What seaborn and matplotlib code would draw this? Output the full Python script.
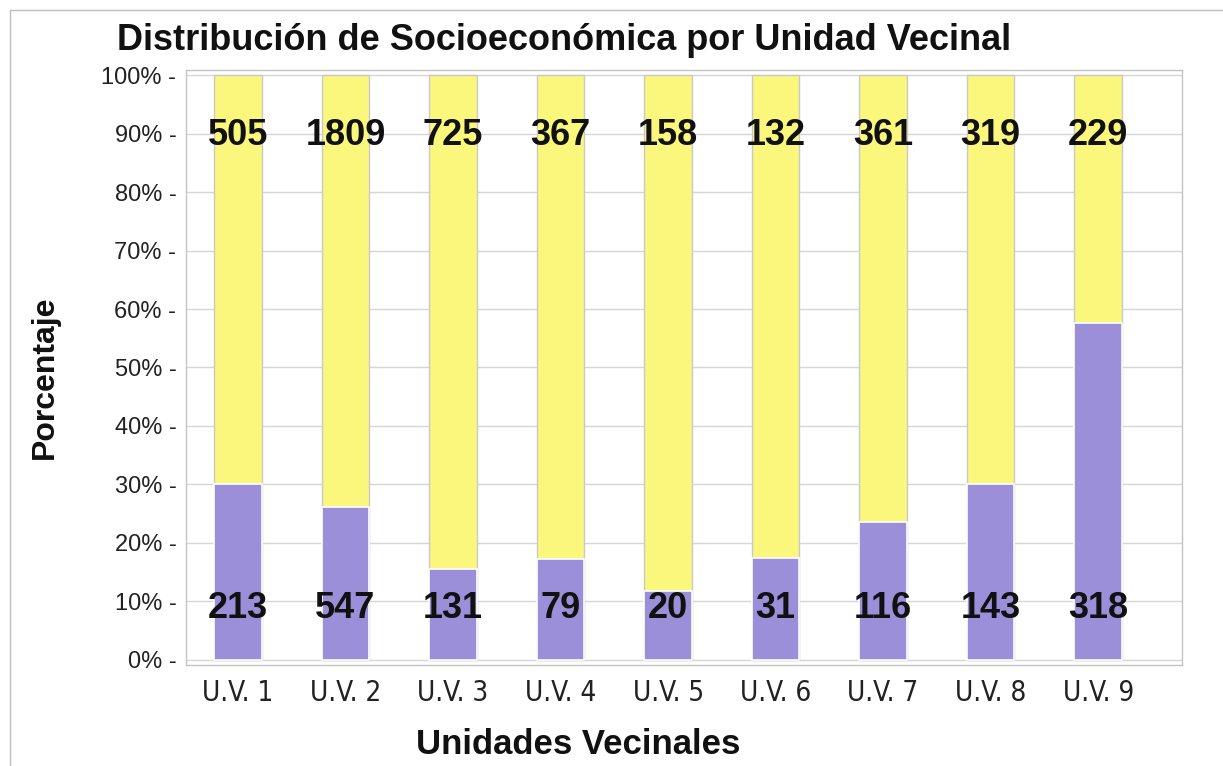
import matplotlib
matplotlib.use("Agg")
import matplotlib.pyplot as plt
from matplotlib import font_manager
from matplotlib.font_manager import FontProperties
from matplotlib.lines import Line2D
import seaborn as sns
import pandas as pd

# ---- data ----
categories = ["U.V. 1", "U.V. 2", "U.V. 3", "U.V. 4", "U.V. 5", "U.V. 6", "U.V. 7", "U.V. 8", "U.V. 9"]
bottom_pct = [30.0, 26.2, 15.5, 17.2, 11.8, 17.4, 23.5, 30.0, 57.6]   # purple share (%)
bottom_counts = [213, 547, 131, 79, 20, 31, 116, 143, 318]
top_counts = [505, 1809, 725, 367, 158, 132, 361, 319, 229]
y_ticks = [0, 10, 20, 30, 40, 50, 60, 70, 80, 90, 100]
title = "Distribución de Socioeconómica por Unidad Vecinal"
xlabel = "Unidades Vecinales"
ylabel = "Porcentaje"

YELLOW = "#FAF77C"
PURPLE = "#9C8FD9"

sns.set_theme(style="white")
plt.rcParams["font.family"] = ["Liberation Sans", "DejaVu Sans"]

# try to find a condensed / narrow sans for the category labels
xfp = None
xsize = 19
for f in font_manager.fontManager.ttflist:
    n = (f.name + " " + f.fname).lower()
    if ("narrow" in n or "condensed" in n) and "bold" not in n and "oblique" not in n \
            and "italic" not in n and "mono" not in n and "serif" not in n.replace("sans", ""):
        xfp = FontProperties(fname=f.fname)
        xsize = 20
        break

W, H = 1223, 766
fig = plt.figure(figsize=(W / 100, H / 100), dpi=100)
ax = fig.add_axes([186 / W, 1 - 665 / H, (1182 - 186) / W, (665 - 70) / H])

df = pd.DataFrame({
    "cat": categories,
    "total": [100.0] * len(categories),
    "bottom": bottom_pct,
})

sns.barplot(data=df, x="cat", y="total", color=YELLOW, saturation=1, width=0.44,
            edgecolor="#c9c9c9", linewidth=1, ax=ax, zorder=2)
sns.barplot(data=df, x="cat", y="bottom", color=PURPLE, saturation=1, width=0.44,
            edgecolor="#ffffff", linewidth=1.2, ax=ax, zorder=3)

ax.set_xlim(-0.484, 8.78)
ax.set_ylim(-0.9, 100.9)

ax.set_yticks(y_ticks)
ax.set_yticklabels([f"{v}% -" for v in y_ticks])
ax.yaxis.grid(True, color="#d6d6d6", linewidth=1, zorder=0)
ax.set_axisbelow(True)
ax.tick_params(axis="y", length=0, pad=7, labelsize=17, labelcolor="#222222")
ax.tick_params(axis="x", length=0, pad=10, labelsize=xsize, labelcolor="#222222")
for lab in ax.get_xticklabels():
    if xfp is not None:
        lab.set_fontproperties(xfp)
    lab.set_fontsize(xsize)
for lab in ax.get_yticklabels():
    lab.set_family("Liberation Sans")

for s in ax.spines.values():
    s.set_color("#c4c4c4")
    s.set_linewidth(1)

ax.set_xlabel("")
ax.set_ylabel("")

# value labels
for i, (b, t) in enumerate(zip(bottom_counts, top_counts)):
    ax.text(i, 89.7, str(t), ha="center", va="center", fontsize=26,
            fontweight="bold", color="#111111", zorder=5)
    ax.text(i, 8.7, str(b), ha="center", va="center", fontsize=26,
            fontweight="bold", color="#111111", zorder=5)

fig.text(117 / W, 1 - 40 / H, title, ha="left", va="center", fontsize=26,
         fontweight="bold", color="#111111")
fig.text(578 / W, 1 - 745 / H, xlabel, ha="center", va="center", fontsize=25,
         fontweight="bold", color="#111111")
fig.text(45 / W, 1 - 377 / H, ylabel, ha="center", va="center", fontsize=23,
         fontweight="bold", color="#111111", rotation=90)

# outer frame lines (top and left)
fig.add_artist(Line2D([10 / W, 1], [1 - 10 / H, 1 - 10 / H], transform=fig.transFigure,
                      color="#bdbdbd", linewidth=1))
fig.add_artist(Line2D([10 / W, 10 / W], [0, 1 - 10 / H], transform=fig.transFigure,
                      color="#bdbdbd", linewidth=1))

fig.savefig("out.png", dpi=100)
